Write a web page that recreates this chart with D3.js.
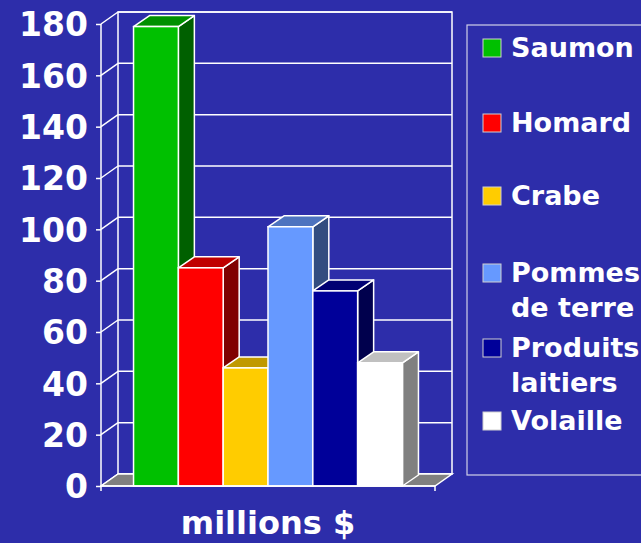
<!DOCTYPE html>
<html><head><meta charset="utf-8">
<script src="https://cdn.jsdelivr.net/npm/d3@7"></script>
<style>html,body{margin:0;padding:0;background:#2c2ca8;}svg{display:block;}</style>
</head><body>
<script>
const categories = ["millions $"];
const seriesNames = ["Saumon","Homard","Crabe","Pommes de terre","Produits laitiers","Volaille"];
const seriesValues = [179, 85, 46, 101, 76, 48];
const legendLines = [["Saumon"],["Homard"],["Crabe"],["Pommes","de terre"],["Produits","laitiers"],["Volaille"]];
const frontColors = ["#00c000","#ff0000","#ffcc00","#6699ff","#000099","#ffffff"];
const topColors   = ["#009000","#c00000","#c09900","#4d73bf","#000073","#c0c0c0"];
const sideColors  = ["#006000","#800000","#806600","#334d80","#00004d","#808080"];
const yTicks = [0,20,40,60,80,100,120,140,160,180];

const W = 641, H = 543;
const svg = d3.select("body").append("svg").attr("width", W).attr("height", H);
const font = "'DejaVu Sans', Verdana, sans-serif";

svg.append("rect").attr("width", W).attr("height", H).attr("fill", "#2d2daa");

const y = d3.scaleLinear().domain([0,180]).range([486,24]);
const x0 = d3.scaleBand().domain(categories).range([101,435]).paddingOuter(0.121).paddingInner(0);
const x1 = d3.scaleBand().domain(seriesNames).range([0, x0.bandwidth()]);
const DX = 17, DY = -12;      // wall depth
const BDX = 16, BDY = -11;    // bar depth
const xL = x0.range()[0], xR = x0.range()[1];

const g = svg.append("g");
const stroke = "#ffffff";

// back wall
g.append("rect").attr("x", xL+DX).attr("y", y(180)+DY).attr("width", xR-xL).attr("height", y(0)-y(180))
  .attr("fill","none").attr("stroke", stroke).attr("stroke-width",1.5);
// back gridlines
g.selectAll(".bg").data(yTicks).join("line")
  .attr("x1", xL+DX).attr("x2", xR+DX).attr("y1", d=>y(d)+DY).attr("y2", d=>y(d)+DY)
  .attr("stroke", stroke).attr("stroke-width",1.5);
// side wall diagonals
g.selectAll(".sg").data(yTicks).join("line")
  .attr("x1", xL).attr("x2", xL+DX).attr("y1", d=>y(d)).attr("y2", d=>y(d)+DY)
  .attr("stroke", stroke).attr("stroke-width",1.5);
// front value axis
g.append("line").attr("x1", xL).attr("x2", xL).attr("y1", y(180)).attr("y2", y(0))
  .attr("stroke", stroke).attr("stroke-width",1.5);
// floor
g.append("path").attr("d", `M${xL},${y(0)}L${xR},${y(0)}L${xR+DX},${y(0)+DY}L${xL+DX},${y(0)+DY}Z`)
  .attr("fill","#808080").attr("stroke", stroke).attr("stroke-width",1.5);

// y axis ticks + labels via d3 axis
const yAxis = d3.axisLeft(y).tickValues(yTicks).tickSize(5).tickPadding(8);
const ya = svg.append("g").attr("transform", `translate(${xL},0)`).call(yAxis);
ya.select(".domain").remove();
ya.selectAll("line").attr("stroke", stroke).attr("stroke-width",1.5);
ya.selectAll("text").attr("fill","#fff").attr("font-family", font).attr("font-weight","bold")
  .attr("font-size", 33).attr("dy","0.36em");

// bars
const bars = g.append("g");
seriesNames.forEach((s,i)=>{
  const v = seriesValues[i];
  const bx = x0(categories[0]) + x1(s), bw = x1.bandwidth();
  const top = y(v), bot = y(0);
  const bg = bars.append("g");
  bg.append("path").attr("d", `M${bx+bw},${top}L${bx+bw+BDX},${top+BDY}L${bx+bw+BDX},${bot+BDY}L${bx+bw},${bot}Z`)
    .attr("fill", sideColors[i]).attr("stroke", stroke).attr("stroke-width",1.5).attr("stroke-linejoin","round");
  bg.append("path").attr("d", `M${bx},${top}L${bx+bw},${top}L${bx+bw+BDX},${top+BDY}L${bx+BDX},${top+BDY}Z`)
    .attr("fill", topColors[i]).attr("stroke", stroke).attr("stroke-width",1.5).attr("stroke-linejoin","round");
  bg.append("rect").attr("x", bx).attr("y", top).attr("width", bw).attr("height", bot-top)
    .attr("fill", frontColors[i]).attr("stroke", stroke).attr("stroke-width",1.5);
});

// category axis
const xAxis = d3.axisBottom(x0).tickSize(0).tickFormat(()=> "");
const xa = svg.append("g").attr("transform", `translate(0,${y(0)})`).call(xAxis);
xa.select(".domain").attr("stroke", stroke).attr("stroke-width",1.5).attr("d", `M${xL},5V0H${xR}V5`);
svg.append("text").attr("x", (xL+xR)/2).attr("y", 534).attr("text-anchor","middle")
  .attr("fill","#fff").attr("font-family", font).attr("font-weight","bold").attr("font-size", 32)
  .text(categories[0]);

// legend
svg.append("rect").attr("x", 467).attr("y", 25).attr("width", 200).attr("height", 450)
  .attr("fill","none").attr("stroke","#d0d0e8").attr("stroke-width",1.2);
const legY = [57,132,205,282,357,430];
const lg = svg.append("g");
seriesNames.forEach((s,i)=>{
  lg.append("rect").attr("x", 483).attr("y", legY[i]-18).attr("width", 18).attr("height", 18)
    .attr("fill", frontColors[i]).attr("stroke","#d0d0d0").attr("stroke-width",1);
  const t = lg.append("text").attr("x", 511).attr("y", legY[i]).attr("fill","#fff")
    .attr("font-family", font).attr("font-weight","bold").attr("font-size", 27);
  legendLines[i].forEach((ln,j)=>{
    t.append("tspan").attr("x", 511).attr("dy", j===0?0:35).text(ln);
  });
});
</script>
</body></html>
